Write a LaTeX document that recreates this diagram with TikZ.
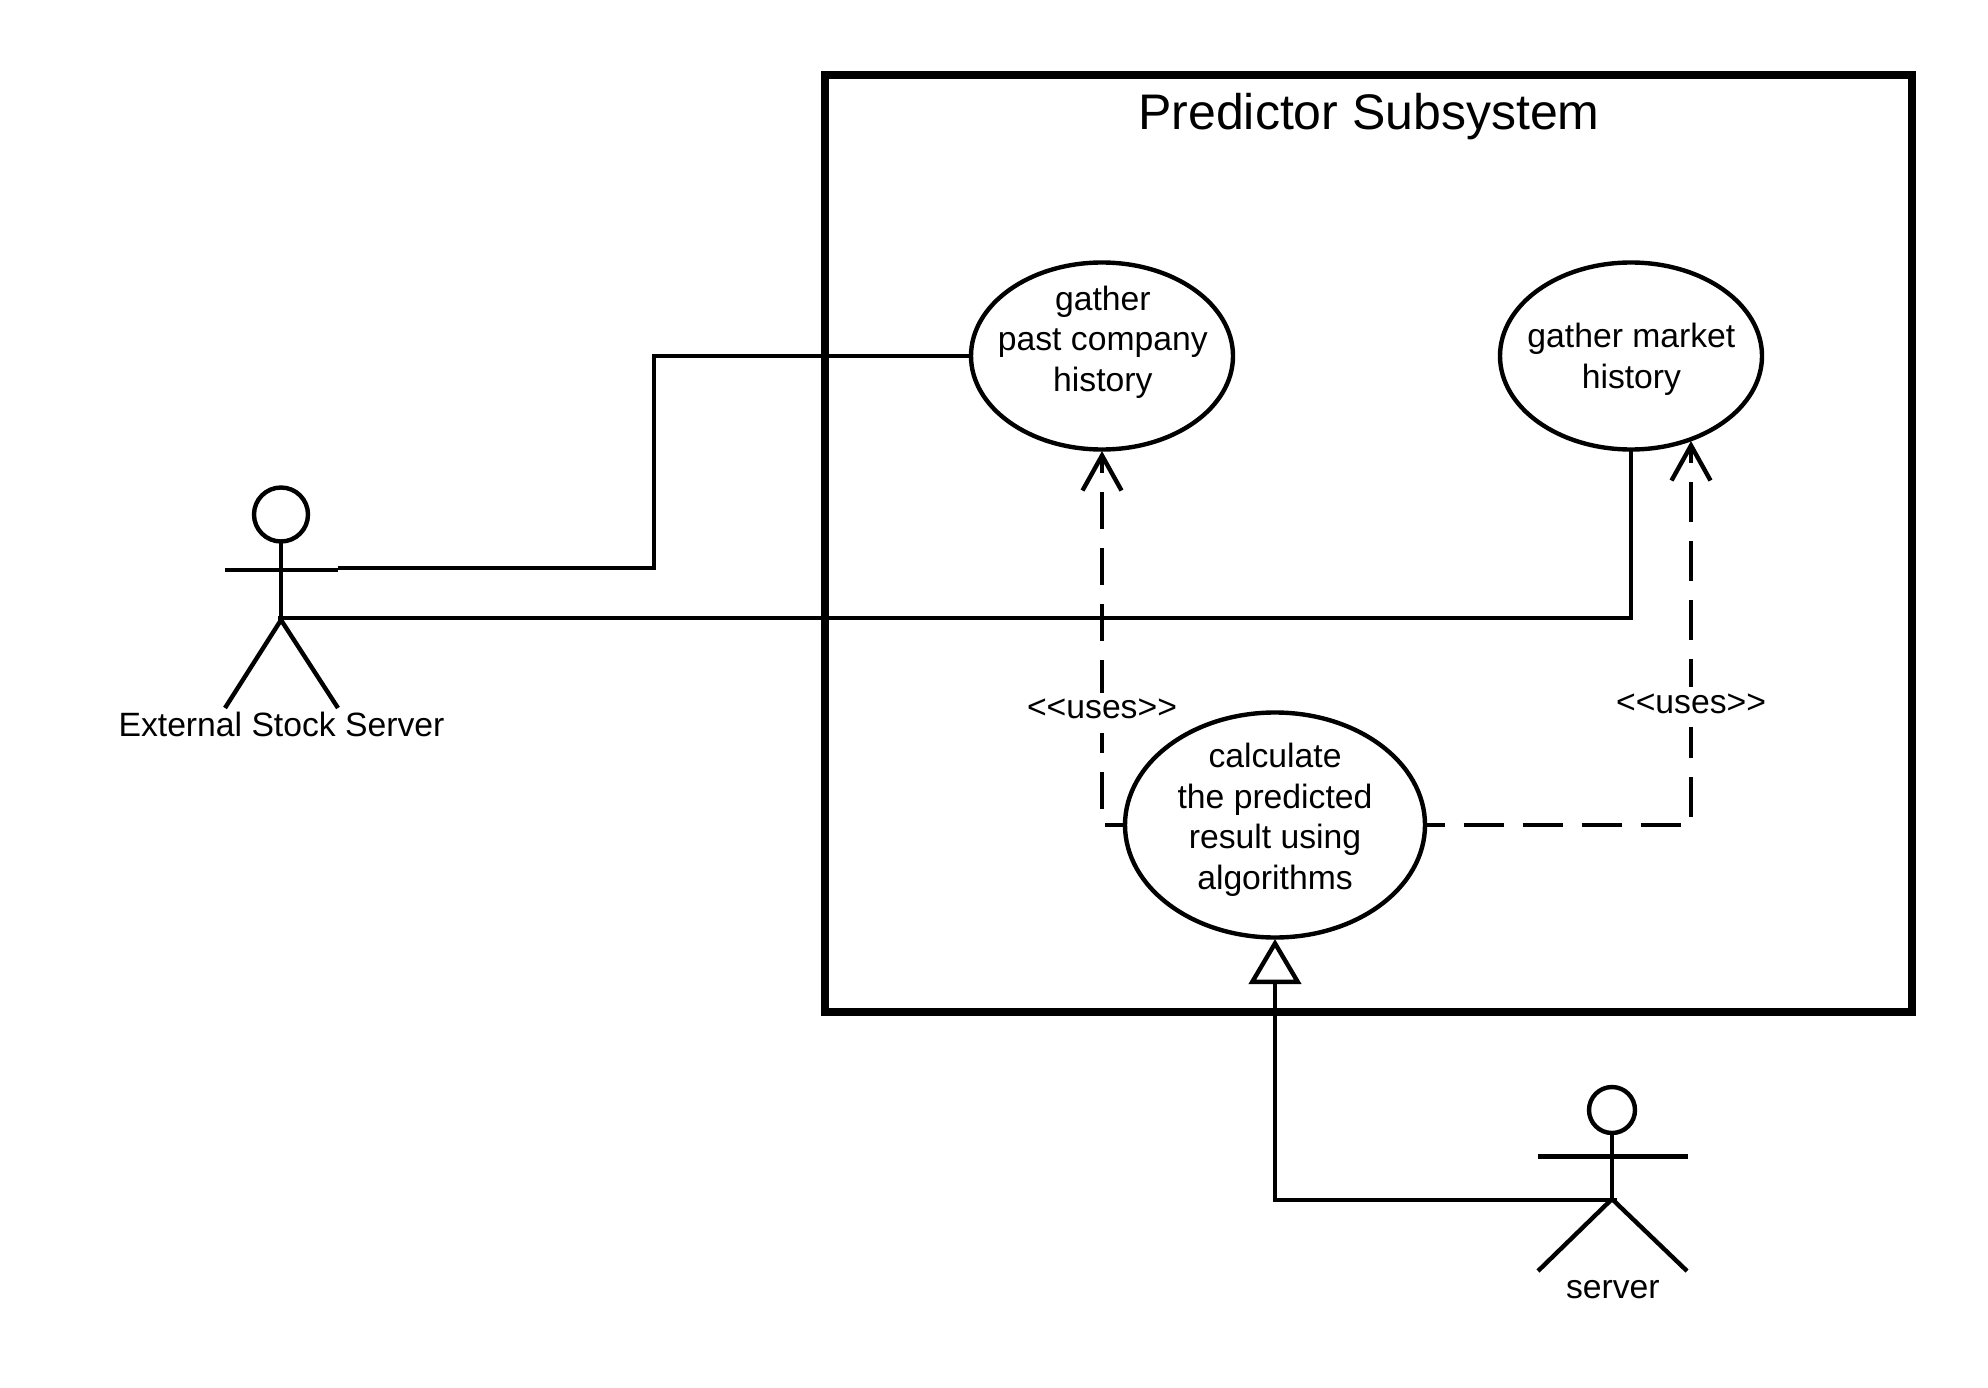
\documentclass[tikz,border=0pt]{standalone}
\usepackage{fontspec}
\setmainfont{Liberation Sans}
\usetikzlibrary{arrows.meta,shapes.geometric}
\tikzset{
  x=1pt,y=-1pt,
  ln/.style={line width=4.4pt,black},
  usecase/.style={draw,ln,ellipse,inner sep=0pt,outer sep=0pt,fill=white},
  txt/.style={font=\fontsize{33.7}{40.5}\selectfont,align=center,inner sep=0pt,text=black},
  dep/.style={ln,-{Straight Barb[length=35pt,width=39pt]}},
  gen/.style={ln,-{Triangle[open,length=45pt,width=52pt,fill=white]}},
  tag/.style={txt,fill=white,anchor=base,inner xsep=1pt,inner ysep=0pt,text height=26pt,text depth=14pt},
}
\begin{document}
\begin{tikzpicture}
\useasboundingbox (0,0) rectangle (1988,1388);
% system boundary
\node (sys) [draw,line width=8pt,rectangle,outer sep=0pt,inner sep=0pt,minimum width=1087pt,minimum height=937pt] at (1368.5,543.5) {};
\node (title) [font=\fontsize{50}{60}\selectfont,inner sep=0pt,anchor=base] at (1369,130) {Predictor Subsystem};
% use cases
\node (e1) [usecase,minimum width=262pt,minimum height=187pt,label={[txt,xshift=0.8pt,yshift=14pt,name=e1t]center:gather\\past company\\history}] at (1102,356) {};
\node (e2) [usecase,minimum width=262pt,minimum height=187pt,label={[txt,xshift=0.4pt,yshift=-3.4pt,name=e2t]center:gather market\\history}] at (1631,356) {};
\node (e3) [usecase,minimum width=300pt,minimum height=225pt,label={[txt,yshift=5.2pt,name=e3t]center:calculate\\the predicted\\result using\\algorithms}] at (1275,825) {};
% actor: External Stock Server
\node (a1head) [draw,ln,circle,minimum size=54pt,inner sep=0pt,outer sep=0pt] at (281,514.5) {};
\coordinate (a1hip) at (281,620);
\coordinate (a1armL) at (225,570);
\coordinate (a1armR) at (338,570);
\coordinate (a1legL) at (225,708);
\coordinate (a1legR) at (338,708);
\coordinate (a1hand) at (338,568);
\coordinate (a1waist) at (278,618);
\draw[ln] (a1head.south) -- (a1hip);
\draw[ln] (a1armL) -- (a1armR);
\draw[ln] (a1legL) -- (a1hip) -- (a1legR);
\node (a1name) [txt,anchor=base] at (281.5,736) {External Stock Server};
% actor: server
\node (a2head) [draw,ln,circle,minimum size=46pt,inner sep=0pt,outer sep=0pt] at (1612,1110) {};
\coordinate (a2hip) at (1612,1199);
\coordinate (a2armL) at (1537.5,1156.5);
\coordinate (a2armR) at (1687.5,1156.5);
\coordinate (a2legL) at (1538,1271);
\coordinate (a2legR) at (1687,1271);
\coordinate (a2waist) at (1617,1200);
\draw[ln] (a2head.south) -- (a2hip);
\draw[ln] (a2armL) -- (a2armR);
\draw[ln] (a2legL) -- (a2hip) -- (a2legR);
\node (a2name) [txt,anchor=base] at (1612.8,1298) {server};
% connectors
\draw[ln] (a1hand) -| (654,356) -- (e1.west);
\draw[ln] (a1waist) -| (e2.south);
\coordinate (t1) at (1102,451);
\coordinate (t2) at (1691,441);
\coordinate (t3) at (1275,939);
\draw[dep,dash pattern=on 37pt off 19pt,dash phase=17pt] (e3.west) -| (t1);
\draw[dep,dash pattern=on 40pt off 19pt,dash phase=20.5pt] (e3.east) -| (t2);
\draw[gen] (a2waist) -| (t3);
\node (u1) [tag] at (1102,718.5) {<{}<uses>{}>};
\node (u2) [tag] at (1691,713) {<{}<uses>{}>};
\end{tikzpicture}
\end{document}
